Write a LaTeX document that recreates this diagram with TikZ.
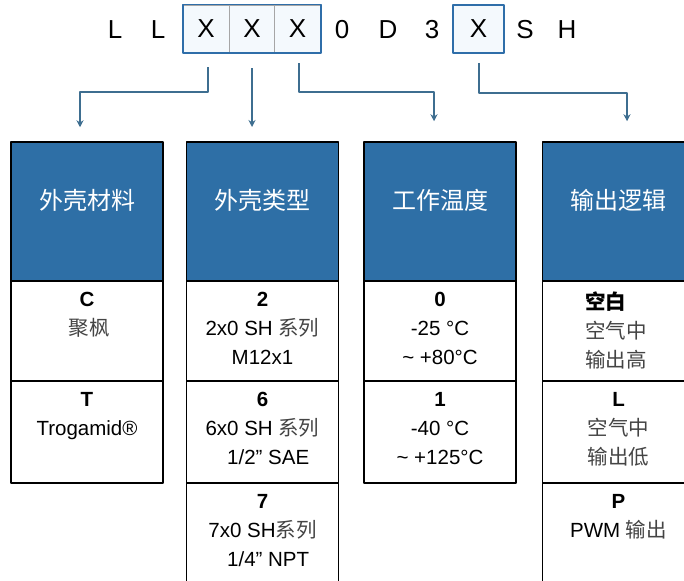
\documentclass[tikz,border=0pt]{standalone}
\usepackage{fontspec}
\setmainfont{Liberation Sans}
\newfontfamily\cjk{Noto Sans CJK SC}
\usetikzlibrary{arrows.meta,calc,positioning}
\definecolor{hdblue}{HTML}{2E6FA6}
\definecolor{lnblue}{HTML}{3E6E90}
\definecolor{bxblue}{HTML}{2F6EA9}
\definecolor{bxfill}{HTML}{F4F9FD}
\definecolor{zhgray}{HTML}{444444}
\newcommand{\zh}[1]{{\cjk\color{zhgray}#1}}
\tikzset{
 code/.style={font=\fontsize{26}{26}\selectfont, inner sep=0pt},
 codebox/.style={code, draw=gray!70, line width=0.8pt, fill=bxfill, minimum width=46pt, minimum height=48pt},
 frame/.style={draw=bxblue, line width=1.8pt},
 head/.style={draw=black, line width=1.5pt, fill=hdblue, minimum width=152pt, minimum height=139pt, inner sep=0pt},
 headtxt/.style={text=white, inner sep=0pt, font=\cjk\fontsize{24}{24}\selectfont},
 cell/.style={draw=black, line width=1.3pt, fill=white, minimum width=152pt, inner sep=0pt},
 celltxt/.style={anchor=north, align=center, inner sep=0pt, font=\fontsize{20.5}{29}\selectfont},
 link/.style={draw=lnblue, line width=2pt, -{Stealth[length=7pt,width=7pt]}},
}
\begin{document}
\begin{tikzpicture}[x=1pt,y=-1pt,line join=round]
\useasboundingbox (0,0) rectangle (684,580);
% order code
\foreach \t/\x/\n in {L/115/l1,L/158/l2,0/342/zero,D/388/d,3/432/three,S/525/s,H/567/h}
  {\node[code] (\n) at (\x,30) {\t};}
\node[codebox] (x1) at (206,29) {X};
\node[codebox] (x2) at (252,29) {X};
\node[codebox] (x3) at (297.5,29) {X};
\draw[frame] (x1.north west) rectangle (x3.south east);
\node[codebox,draw=bxblue,line width=1.8pt,minimum width=51pt] (x4) at (478.5,29) {X};
% headers and cells
\foreach \n/\x/\t in {1/87/外壳材料,2/262.5/外壳类型,3/440/工作温度,4/618.5/输出逻辑}{
  \node[head] (h\n) at (\x,211.5) {};
  \node[headtxt] (ht\n) at ([yshift=11.5pt]h\n.center) {\t};
  \node[cell,minimum height=100pt] (c\n a) at (\x,331) {};
  \node[cell,minimum height=102pt] (c\n b) at (\x,432) {};
}
\foreach \n in {2,4}{\node[cell,minimum height=108pt] (c\n c) at (h\n|-0,537) {};}
% texts
\node[celltxt] (t1a) at ([yshift=-11.5pt]c1a.north) {\textbf{C}\\\zh{\ 聚枫}};
\node[celltxt] (t1b) at ([yshift=-11.5pt]c1b.north) {\textbf{T}\\Trogamid®};
\node[celltxt] (t2a) at ([yshift=-11.5pt]c2a.north) {\textbf{2}\\2x0 SH \zh{系列}\\M12x1};
\node[celltxt] (t2b) at ([yshift=-11.5pt]c2b.north) {\textbf{6}\\6x0 SH \zh{系列}\\\ \ 1/2” SAE};
\node[celltxt] (t2c) at ([yshift=-11.5pt]c2c.north) {\textbf{7}\\7x0 SH\zh{系列}\\\ \ 1/4” NPT};
\node[celltxt] (t3a) at ([yshift=-11.5pt]c3a.north) {\textbf{0}\\-25 °C\\\textasciitilde{} +80°C};
\node[celltxt] (t3b) at ([yshift=-11.5pt]c3b.north) {\textbf{1}\\-40 °C\\\textasciitilde{} +125°C};
\node[celltxt,anchor=north west,align=left] (t4a) at ([xshift=43pt,yshift=-11.5pt]c4a.north west)
  {{\cjk\bfseries 空白}\\\zh{空气中}\\\zh{输出高}};
\node[celltxt] (t4b) at ([yshift=-11.5pt]c4b.north) {\textbf{L}\\\zh{空气中}\\\zh{输出低}};
\node[celltxt] (t4c) at ([yshift=-11.5pt]c4c.north) {\textbf{P}\\PWM \zh{输出}};
% connectors
\coordinate (b1) at (80,92);
\coordinate (e2) at (252,127);
\coordinate (b3) at (434,92);
\coordinate (b4) at (627,93);
\draw[link] ([xshift=2pt,yshift=-14pt]x1.south) |- (b1) -- ([xshift=-7pt,yshift=14pt]h1.north);
\draw[link] ([yshift=-15pt]x2.south) -- (e2);
\draw[link] ([xshift=1.5pt,yshift=-10pt]x3.south) |- (b3) -- ([xshift=-6pt,yshift=20pt]h3.north);
\draw[link] ([yshift=-9pt]x4.south) |- (b4) -- ([xshift=8.5pt,yshift=20pt]h4.north);
\end{tikzpicture}
\end{document}
